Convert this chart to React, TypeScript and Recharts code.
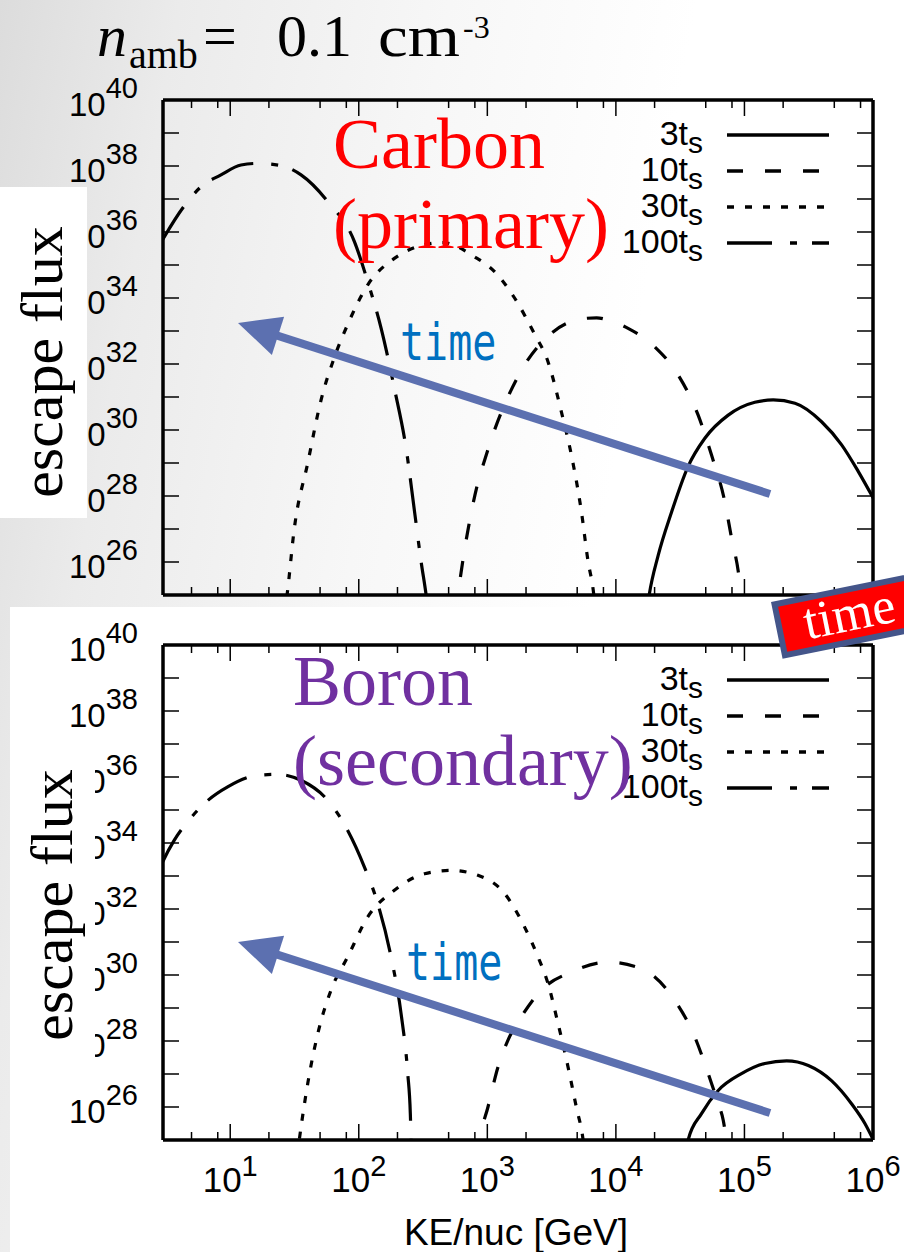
import React from "react";
import { LineChart, Line, XAxis, YAxis, Legend } from "recharts";

// axis ranges, in log10 units
const X_MIN = Math.log10(3);
const X_MAX = 6;
const Y_MIN = 25;
const Y_MAX = 40;

const X_MAJOR = [1, 2, 3, 4, 5, 6];
const X_MINOR_MULT = [2, 5, 8];
const Y_TICKS = [26, 27, 28, 29, 30, 31, 32, 33, 34, 35, 36, 37, 38, 39, 40];

const LEGEND_LABELS = ["3t", "10t", "30t", "100t"];
const DASHES = [undefined, "16 22", "7 11", "45 18 7 15"];

// [log10(KE/nuc GeV), log10(escape flux)]
const CARBON_3 = [
  [4.24, 24.5], [4.259, 25.0], [4.329, 26.2], [4.432, 27.5], [4.562, 28.9],
  [4.692, 29.75], [4.874, 30.45], [5.081, 30.84], [5.224, 30.91], [5.393, 30.81],
  [5.6, 30.25], [5.756, 29.55], [5.886, 28.74], [6.003, 27.93],
];
const CARBON_10 = [
  [2.75, 24.4], [2.771, 25.0], [2.82, 26.3], [2.87, 27.4], [2.92, 28.3],
  [2.98, 29.1], [3.056, 30.0], [3.16, 31.0], [3.29, 31.97], [3.498, 32.93],
  [3.757, 33.38], [3.85, 33.4], [3.939, 33.33], [4.095, 33.08], [4.302, 32.52],
  [4.484, 31.67], [4.64, 30.45], [4.744, 29.24], [4.847, 27.83], [4.9, 26.72],
  [4.952, 25.71], [4.975, 25.0], [4.99, 24.5],
];
const CARBON_30 = [
  [1.42, 24.4], [1.442, 25.0], [1.498, 27.0], [1.603, 29.0], [1.706, 30.9],
  [1.81, 32.2], [1.914, 33.2], [2.07, 34.4], [2.277, 35.2], [2.45, 35.55],
  [2.65, 35.68], [2.9, 35.25], [3.056, 34.8], [3.212, 34.0], [3.368, 32.9],
  [3.472, 32.07], [3.576, 30.55], [3.654, 29.24], [3.732, 27.52], [3.784, 26.01],
  [3.822, 25.2], [3.84, 24.6],
];
const CARBON_100 = [
  [0.45, 35.6], [0.481, 35.81], [0.668, 36.92], [0.772, 37.37], [0.928, 37.73],
  [1.084, 38.03], [1.213, 38.08], [1.395, 38.01], [1.551, 37.73], [1.759, 36.92],
  [1.966, 35.71], [2.07, 34.49], [2.174, 33.08], [2.277, 31.26], [2.368, 29.45],
  [2.434, 27.52], [2.485, 26.01], [2.524, 25.0], [2.55, 24.2],
];

const BORON_3 = [
  [4.54, 24.5], [4.562, 25.0], [4.666, 25.8], [4.796, 26.5], [4.977, 27.01],
  [5.159, 27.32], [5.328, 27.4], [5.497, 27.26], [5.677, 26.8], [5.833, 26.1],
  [5.937, 25.5], [6.003, 25.0],
];
const BORON_10 = [
  [2.92, 24.5], [2.939, 25.0], [3.005, 26.0], [3.083, 27.21], [3.16, 28.02],
  [3.264, 28.73], [3.42, 29.54], [3.654, 30.09], [3.939, 30.39], [4.199, 30.19],
  [4.458, 29.23], [4.614, 28.12], [4.718, 27.01], [4.796, 26.1], [4.835, 25.6],
  [4.86, 25.0], [4.88, 24.5],
];
const BORON_30 = [
  [1.52, 24.5], [1.537, 25.0], [1.603, 26.71], [1.681, 28.22], [1.784, 29.54],
  [1.914, 30.55], [2.07, 31.76], [2.277, 32.57], [2.511, 33.07], [2.719, 33.17],
  [2.927, 33.02], [3.134, 32.47], [3.29, 31.45], [3.394, 30.55], [3.472, 29.74],
  [3.55, 28.53], [3.628, 27.21], [3.692, 26.0], [3.745, 25.0], [3.76, 24.5],
];
const BORON_100 = [
  [0.45, 33.2], [0.474, 33.42], [0.564, 34.08], [0.668, 34.64], [0.797, 35.19],
  [0.98, 35.7], [1.213, 36.05], [1.369, 36.08], [1.551, 35.9], [1.759, 35.29],
  [1.914, 34.38], [2.044, 33.27], [2.148, 32.16], [2.251, 30.55], [2.329, 28.83],
  [2.381, 27.01], [2.401, 25.8], [2.407, 25.0], [2.41, 24.5],
];

const CARBON = [CARBON_3, CARBON_10, CARBON_30, CARBON_100];
const BORON = [BORON_3, BORON_10, BORON_30, BORON_100];

const X_TICKS = [
  Math.log10(5), Math.log10(8),
  ...X_MAJOR.flatMap((d) =>
    d < 6 ? [d, ...X_MINOR_MULT.map((m) => d + Math.log10(m))] : [d]
  ),
];

const SANS = "'Liberation Sans', Arial, sans-serif";
const SERIF = "'Liberation Serif', 'Times New Roman', serif";
const MONO = "'DejaVu Sans Mono', monospace";
const ARROW = "#5c70b0";

const isMajor = (v: number) => Math.abs(v - Math.round(v)) < 1e-6;

function XTick(props: any) {
  const { x, y, payload, side, labels } = props;
  const v = payload.value;
  const major = isMajor(v);
  const len = major ? 16 : 8;
  const dir = side === "bottom" ? -1 : 1;
  return (
    <g>
      <line x1={x} y1={y} x2={x} y2={y + dir * len} stroke="#000" strokeWidth={1.5} />
      {labels && major && (
        <text x={x} y={y + 52} textAnchor="middle" fontFamily={SANS} fontSize={35} fill="#000">
          10
          <tspan dy={-16} fontSize={29}>{Math.round(v)}</tspan>
        </text>
      )}
    </g>
  );
}

function YTick(props: any) {
  const { x, y, payload, side } = props;
  const v = payload.value;
  const dir = side === "left" ? 1 : -1;
  return (
    <g>
      <line x1={x} y1={y} x2={x + dir * 16} y2={y} stroke="#000" strokeWidth={1.5} />
      {side === "left" && v % 2 === 0 && (
        <text x={x - 25} y={y + 16} textAnchor="end" fontFamily={SANS} fontSize={33} fill="#000">
          10
          <tspan dy={-18} fontSize={29}>{v}</tspan>
        </text>
      )}
    </g>
  );
}

function LegendBox() {
  return (
    <svg width={260} height={160}>
      {LEGEND_LABELS.map((lab, i) => {
        const base = 35 + i * 36;
        return (
          <g key={lab}>
            <text x={103} y={base} textAnchor="end" fontFamily={SANS} fontSize={34} fill="#000">
              {lab}
              <tspan dy={8} fontSize={30}>s</tspan>
            </text>
            <line x1={127} x2={229} y1={base - 10} y2={base - 10} stroke="#000"
              strokeWidth={3.4} strokeDasharray={DASHES[i]} />
          </g>
        );
      })}
    </svg>
  );
}

function Panel({ series, top, bottom, xLabels }: { series: number[][][]; top: number; bottom: number; xLabels: boolean }) {
  const axisLine = { stroke: "#000", strokeWidth: 3.5 };
  return (
    <div style={{ position: "absolute", left: 0, top: 0 }}>
      <LineChart
        width={904}
        height={1252}
        margin={{ top: top - 1, right: 904 - 873 - 1, bottom: 1252 - bottom - 1, left: 162 }}
      >
        <XAxis xAxisId="b" type="number" dataKey="x" domain={[X_MIN, X_MAX]} allowDataOverflow
          ticks={X_TICKS} interval={0} height={1} tickSize={0} tickMargin={0} tickLine={false}
          axisLine={axisLine} tick={(p: any) => <XTick {...p} side="bottom" labels={xLabels} />} />
        <XAxis xAxisId="t" orientation="top" type="number" dataKey="x" domain={[X_MIN, X_MAX]} allowDataOverflow
          ticks={X_TICKS} interval={0} height={1} tickSize={0} tickMargin={0} tickLine={false}
          axisLine={axisLine} tick={(p: any) => <XTick {...p} side="top" labels={false} />} />
        <YAxis yAxisId="l" type="number" domain={[Y_MIN, Y_MAX]} allowDataOverflow
          ticks={Y_TICKS} interval={0} width={1} tickSize={0} tickMargin={0} tickLine={false}
          axisLine={axisLine} tick={(p: any) => <YTick {...p} side="left" />} />
        <YAxis yAxisId="r" orientation="right" type="number" domain={[Y_MIN, Y_MAX]} allowDataOverflow
          ticks={Y_TICKS} interval={0} width={1} tickSize={0} tickMargin={0} tickLine={false}
          axisLine={axisLine} tick={(p: any) => <YTick {...p} side="right" />} />
        {series.map((pts, i) => (
          <Line
            key={LEGEND_LABELS[i]}
            name={LEGEND_LABELS[i]}
            xAxisId="b"
            yAxisId="l"
            data={pts.map(([x, y]) => ({ x, y }))}
            dataKey="y"
            type="monotone"
            stroke="#000"
            strokeWidth={3.2}
            strokeDasharray={DASHES[i]}
            dot={false}
            activeDot={false}
            isAnimationActive={false}
          />
        ))}
        <Legend
          layout="horizontal"
          verticalAlign="middle"
          align="center"
          content={() => <LegendBox />}
          wrapperStyle={{ position: "absolute", left: 600, top: top + 10, width: 260, height: 160 }}
        />
      </LineChart>
    </div>
  );
}

function Arrow({ tail, tip }: { tail: [number, number]; tip: [number, number] }) {
  const dx = tip[0] - tail[0];
  const dy = tip[1] - tail[1];
  const len = Math.hypot(dx, dy);
  const ux = dx / len, uy = dy / len;
  const bx = tip[0] - 42 * ux, by = tip[1] - 42 * uy;
  const nx = -uy, ny = ux;
  const pts = `${tip[0]},${tip[1]} ${bx + 20 * nx},${by + 20 * ny} ${bx - 20 * nx},${by - 20 * ny}`;
  return (
    <g>
      <line x1={tail[0]} y1={tail[1]} x2={bx + 4 * ux} y2={by + 4 * uy} stroke={ARROW} strokeWidth={8} />
      <polygon points={pts} fill={ARROW} />
    </g>
  );
}

export default function App() {
  return (
    <div style={{ position: "absolute", left: 0, top: 0, width: 904, height: 1252, overflow: "hidden" }}>
      <div style={{
        position: "absolute", left: 0, top: 0, width: 904, height: 1252,
        background: "linear-gradient(100deg, #dcdcdc 0%, #ebebeb 16%, #f7f7f7 40%, #ffffff 62%)",
      }} />
      <div style={{ position: "absolute", left: 10, top: 607, width: 894, height: 645, background: "#fff" }} />

      <Panel series={CARBON} top={100} bottom={595} xLabels={false} />
      <Panel series={BORON} top={645} bottom={1140} xLabels={true} />

      <svg width={904} height={1252} style={{ position: "absolute", left: 0, top: 0, pointerEvents: "none" }}>
        {/* title */}
        <text x={97} y={56} fontFamily={SERIF} fontSize={60} fontStyle="italic">n</text>
        <text x={129} y={68} fontFamily={SERIF} fontSize={40}>amb</text>
        <text x={203} y={56} fontFamily={SERIF} fontSize={60}>=</text>
        <text x={277} y={56} fontFamily={SERIF} fontSize={60}>0.1</text>
        <text x={378} y={56} fontFamily={SERIF} fontSize={60} textLength={82} lengthAdjust="spacingAndGlyphs">cm</text>
        <text x={463} y={38} fontFamily={SERIF} fontSize={32}>-3</text>

        {/* y-axis titles on white boxes */}
        <rect x={0} y={187} width={87} height={331} fill="#fff" />
        <rect x={10} y={745} width={85} height={333} fill="#fff" />
        <text transform="translate(62,362) rotate(-90)" textAnchor="middle" fontFamily={SERIF} fontSize={60}>escape flux</text>
        <text transform="translate(72,905) rotate(-90)" textAnchor="middle" fontFamily={SERIF} fontSize={60}>escape flux</text>

        {/* x-axis title */}
        <text x={516} y={1245} textAnchor="middle" fontFamily={SANS} fontSize={37}>KE/nuc [GeV]</text>

        {/* species labels */}
        <text x={333} y={168} fontFamily={SERIF} fontSize={72} fill="#ff0000">Carbon</text>
        <text x={333} y={248} fontFamily={SERIF} fontSize={72} fill="#ff0000">(primary)</text>
        <text x={293} y={705} fontFamily={SERIF} fontSize={72} fill="#7030a0">Boron</text>
        <text x={293} y={785} fontFamily={SERIF} fontSize={72} fill="#7030a0">(secondary)</text>

        {/* time arrows */}
        <Arrow tail={[770, 494]} tip={[238, 323]} />
        <Arrow tail={[770, 1113]} tip={[238, 942]} />
        <text transform="translate(400,360) scale(1,1.3)" fontFamily={MONO} fontSize={40} fill="#0070c0">time</text>
        <text transform="translate(406,980) scale(1,1.3)" fontFamily={MONO} fontSize={40} fill="#0070c0">time</text>

        {/* badge */}
        <g transform="translate(771,602) rotate(-11.5)">
          <rect x={3} y={3} width={200} height={52} fill="#ff0000" stroke="#44558a" strokeWidth={6} />
          <text x={28} y={44} fontFamily={SERIF} fontSize={52} fill="#fff">time</text>
        </g>
      </svg>
    </div>
  );
}
